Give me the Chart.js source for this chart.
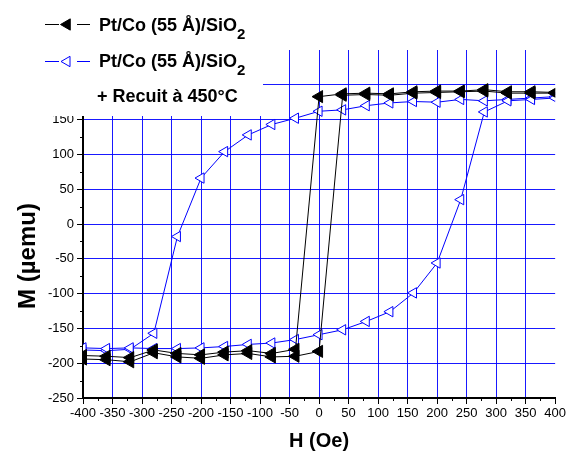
<!DOCTYPE html>
<html>
<head>
<meta charset="utf-8">
<script src="https://cdn.jsdelivr.net/npm/chart.js@4/dist/chart.umd.min.js"></script>
<style>
html, body { margin: 0; padding: 0; background: #fff; }
</style>
</head>
<body>
<canvas id="cycle" width="568" height="458"></canvas>
<script>
// Champ appliqué (Oe) : branche descendante puis branche montante
const champDesc = [400, 360, 320, 280, 240, 200, 160, 120, 80, 40, 0, -40, -80, -120, -160, -200, -240, -280, -320, -360, -400];
const champMont = [-400, -360, -320, -280, -240, -200, -160, -120, -80, -40, 0, 40, 80, 120, 160, 200, 240, 280, 320, 360, 400];

// Aimantation (µemu) - échantillon brut
const mBrutDesc = [189, 190, 190, 193, 191, 191, 190, 187, 188, 187, 183, -180, -186, -182, -184, -188, -186, -181, -192, -190, -189];
const mBrutMont = [-194, -195, -198, -185, -191, -193, -188, -186, -191, -190, -183, 185, 186, 185, 188, 189, 190, 191, 188, 188, 188];

// Aimantation (µemu) - après recuit à 450°C
const mRecuitDesc = [183, 181, 179, 177, 179, 175, 176, 174, 170, 164, 162, 152, 143, 128, 104, 66, -18, -157, -180, -182, -181];
const mRecuitMont = [-178, -179, -178, -179, -179, -178, -176, -173, -171, -166, -159, -152, -140, -126, -99, -56, 35, 161, 177, 179, 181];

const legendeTexte = ['Pt/Co (55 Å)/SiO', 'Pt/Co (55 Å)/SiO', '+ Recuit à 450°C'];

const police = '"Liberation Sans", Arial, sans-serif';
const bleuGrille = 'rgba(0, 0, 255, 0.9)';

function boucle(champA, mA, champB, mB) {
    const pts = [];
    champA.forEach((h, i) => pts.push({ x: h, y: mA[i] }));
    champB.forEach((h, i) => pts.push({ x: h, y: mB[i] }));
    return pts;
}

function triangleGauche(ctx, x, y, r, fill, stroke) {
    ctx.beginPath();
    ctx.moveTo(x - r, y);
    ctx.lineTo(x + 0.5 * r, y - 0.866 * r);
    ctx.lineTo(x + 0.5 * r, y + 0.866 * r);
    ctx.closePath();
    ctx.fillStyle = fill;
    ctx.fill();
    ctx.strokeStyle = stroke;
    ctx.lineWidth = 1;
    ctx.stroke();
}

// petites graduations, titre Y et légende
const decor = {
    id: 'decor',
    afterDraw(chart) {
        const ctx = chart.ctx;
        const xs = chart.scales.x, ys = chart.scales.y;
        ctx.save();
        ctx.strokeStyle = '#000';
        ctx.lineWidth = 1;
        for (let v = -375; v < 400; v += 50) {
            const px = Math.round(xs.getPixelForValue(v)) + 0.5;
            ctx.beginPath(); ctx.moveTo(px, xs.top); ctx.lineTo(px, xs.top + 3); ctx.stroke();
        }
        for (let v = -225; v < 250; v += 50) {
            const py = Math.round(ys.getPixelForValue(v)) + 0.5;
            ctx.beginPath(); ctx.moveTo(ys.right, py); ctx.lineTo(ys.right - 3, py); ctx.stroke();
        }

        // titre de l'axe Y
        ctx.save();
        ctx.translate(28, 256);
        ctx.rotate(-Math.PI / 2);
        ctx.fillStyle = '#000';
        ctx.font = 'bold 24px ' + police;
        ctx.textAlign = 'center';
        ctx.textBaseline = 'middle';
        ctx.fillText('M (µemu)', 0, 0);
        ctx.restore();

        // légende
        ctx.fillStyle = '#fff';
        ctx.fillRect(0, 0, 263, 116);
        const lignes = [
            { y: 24, base: 31, couleur: '#000', fond: '#000', r: 6.5 },
            { y: 61, base: 67, couleur: '#0000ff', fond: '#fff', r: 6 }
        ];
        lignes.forEach((l, i) => {
            ctx.strokeStyle = l.couleur;
            ctx.lineWidth = 1;
            ctx.beginPath(); ctx.moveTo(45, l.y + 0.5); ctx.lineTo(59, l.y + 0.5); ctx.stroke();
            ctx.beginPath(); ctx.moveTo(77, l.y + 0.5); ctx.lineTo(90, l.y + 0.5); ctx.stroke();
            triangleGauche(ctx, 67, l.y + 0.5, l.r, l.fond, l.couleur);
            ctx.fillStyle = '#000';
            ctx.textAlign = 'left';
            ctx.textBaseline = 'alphabetic';
            ctx.font = 'bold 18px ' + police;
            ctx.fillText(legendeTexte[i], 99, l.base);
            const w = ctx.measureText(legendeTexte[i]).width;
            ctx.font = 'bold 15px ' + police;
            ctx.fillText('2', 99 + w, l.base + 8);
        });
        ctx.font = 'bold 18px ' + police;
        ctx.fillText(legendeTexte[2], 97, 102);
        ctx.restore();
    }
};

const ctx = document.getElementById('cycle').getContext('2d');
new Chart(ctx, {
    type: 'scatter',
    data: {
        datasets: [{
            label: legendeTexte[0],
            data: boucle(champDesc, mBrutDesc, champMont, mBrutMont),
            showLine: true,
            borderColor: '#000',
            borderWidth: 1,
            pointStyle: 'triangle',
            rotation: -90,
            pointRadius: 7,
            pointBackgroundColor: '#000',
            pointBorderColor: '#000',
            pointBorderWidth: 1
        }, {
            label: legendeTexte[2],
            data: boucle(champDesc, mRecuitDesc, champMont, mRecuitMont),
            showLine: true,
            borderColor: '#0000ff',
            borderWidth: 1,
            pointStyle: 'triangle',
            rotation: -90,
            pointRadius: 6,
            pointBackgroundColor: '#fff',
            pointBorderColor: '#0000ff',
            pointBorderWidth: 1
        }]
    },
    options: {
        responsive: false,
        animation: false,
        layout: { padding: { top: 50, right: 11, bottom: 0, left: 0 } },
        plugins: {
            legend: { display: false },
            tooltip: { enabled: false }
        },
        scales: {
            x: {
                type: 'linear',
                min: -400,
                max: 400,
                afterFit: (s) => { s.height = 60; },
                ticks: { stepSize: 50, color: '#000', font: { family: police, size: 13 }, padding: 2, maxRotation: 0, autoSkip: false },
                grid: {
                    color: (c) => (c.tick && Math.abs(c.tick.value) === 400) ? 'rgba(0,0,0,0)' : bleuGrille,
                    tickColor: '#000',
                    tickLength: 6
                },
                border: { color: '#000', width: 2 },
                title: { display: true, text: 'H (Oe)', color: '#000', font: { family: police, size: 20, weight: 'bold' }, padding: { top: 0, bottom: 5 } }
            },
            y: {
                min: -250,
                max: 250,
                afterFit: (s) => { s.width = 83; },
                ticks: { stepSize: 50, color: '#000', font: { family: police, size: 13 }, padding: 3 },
                grid: {
                    color: (c) => (c.tick && Math.abs(c.tick.value) === 250) ? 'rgba(0,0,0,0)' : bleuGrille,
                    tickColor: '#000',
                    tickLength: 6
                },
                border: { color: '#000', width: 2 }
            }
        }
    },
    plugins: [decor]
});
</script>
</body>
</html>
